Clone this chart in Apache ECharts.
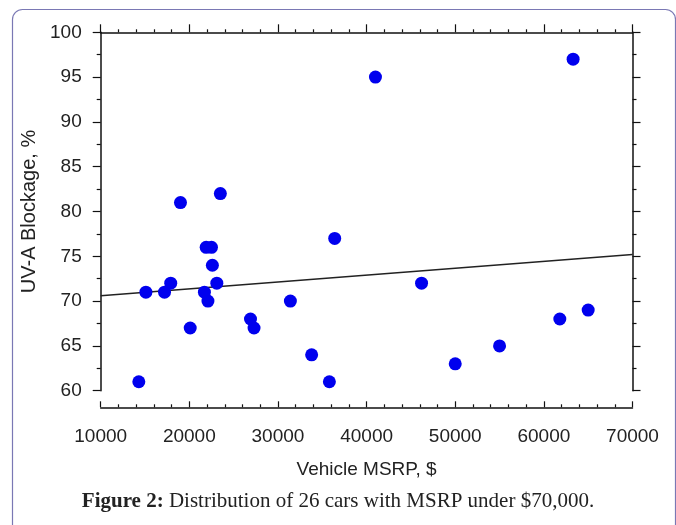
<!DOCTYPE html>
<html>
<head>
<meta charset="utf-8">
<script src="https://cdn.jsdelivr.net/npm/echarts@6/dist/echarts.min.js"></script>
<style>
html,body{margin:0;padding:0;background:#fff;}
#c{width:676px;height:525px;}
</style>
</head>
<body>
<div id="c"></div>
<script>
// Vehicle MSRP ($) and UV-A blockage (%) for the 26 cars
const msrp = [14300, 15100, 17200, 17900, 19000, 20100, 21900, 21700, 22100, 22500, 22600, 23100, 23500, 26900, 27300, 31400, 33800, 35800, 36400, 41000, 46200, 50000, 55000, 61800, 63300, 65000];
const uva  = [61, 71, 71, 72, 81, 67, 76, 71, 70, 76, 74, 72, 82, 68, 67, 70, 64, 61, 77, 95, 72, 63, 65, 68, 97, 69];
// Fitted trend line end points
const trendX = [10000, 70000];
const trendY = [70.6, 75.2];
const xTicks = [10000, 20000, 30000, 40000, 50000, 60000, 70000];
const yTicks = [60, 65, 70, 75, 80, 85, 90, 95, 100];

const chart = echarts.init(document.getElementById('c'), null, {renderer: 'canvas'});
const lineStyle = {color: '#111', width: 1.5};
const labelFont = {fontFamily: 'Liberation Sans, Arial, sans-serif', fontSize: 19, color: '#222'};

const xBase = {
  type: 'value', min: xTicks[0], max: xTicks[xTicks.length - 1], interval: 10000,
  splitLine: {show: false},
  axisLine: {show: true, onZero: false, lineStyle: lineStyle},
  minorTick: {show: true, splitNumber: 5, length: 3, lineStyle: {color: '#111', width: 1.2}},
  minorSplitLine: {show: false}
};
const yBase = {
  type: 'value', min: yTicks[0], max: yTicks[yTicks.length - 1], interval: 5,
  splitLine: {show: false},
  axisLine: {show: true, onZero: false, lineStyle: lineStyle},
  minorTick: {show: true, splitNumber: 2, length: 4, lineStyle: {color: '#111', width: 1.2}},
  minorSplitLine: {show: false}
};

chart.setOption({
  animation: false,
  backgroundColor: '#fff',
  grid: {left: 100.7, right: 43.5, top: 32.3, bottom: 134.3, containLabel: false},
  title: {
    text: '{b|Figure 2:} Distribution of 26 cars with MSRP under $70,000.',
    left: 'center', top: 486,
    textStyle: {
      fontFamily: 'Liberation Serif, Times New Roman, serif', fontSize: 21, fontWeight: 'normal', color: '#222',
      rich: {b: {fontFamily: 'Liberation Serif, Times New Roman, serif', fontSize: 21, fontWeight: 'bold', color: '#222'}}
    }
  },
  graphic: [{
    type: 'rect', left: 10, top: 7, silent: true, z: -1,
    shape: {width: 663, height: 530, r: 10},
    style: {fill: 'none', stroke: '#7a78b4', lineWidth: 1.2}
  }],
  xAxis: [
    Object.assign({}, xBase, {
      position: 'bottom', offset: 16.6,
      name: 'Vehicle MSRP, $', nameLocation: 'middle', nameGap: 53,
      nameTextStyle: {fontFamily: 'Liberation Sans, Arial, sans-serif', fontSize: 19, color: '#222'},
      axisTick: {show: true, inside: true, length: 6, lineStyle: {color: '#111', width: 1.2}},
      axisLabel: Object.assign({margin: 20, formatter: v => String(v)}, labelFont)
    }),
    Object.assign({}, xBase, {
      position: 'top',
      axisTick: {show: true, inside: false, length: 8, lineStyle: {color: '#111', width: 1.2}},
      axisLabel: {show: false}
    })
  ],
  yAxis: [
    Object.assign({}, yBase, {
      position: 'left',
      name: 'UV-A Blockage, %', nameLocation: 'middle', nameGap: 57, nameRotate: 90,
      nameTextStyle: {fontFamily: 'Liberation Sans, Arial, sans-serif', fontSize: 20, color: '#222'},
      axisTick: {show: true, inside: false, length: 8, lineStyle: {color: '#111', width: 1.2}},
      axisLabel: Object.assign({margin: 19, formatter: v => String(v)}, labelFont)
    }),
    Object.assign({}, yBase, {
      position: 'right',
      axisTick: {show: true, inside: false, length: 8, lineStyle: {color: '#111', width: 1.2}},
      axisLabel: {show: false}
    })
  ],
  series: [
    {
      type: 'line', xAxisIndex: 0, yAxisIndex: 0,
      data: trendX.map((x, i) => [x, trendY[i]]),
      symbol: 'none', lineStyle: {color: '#222', width: 1.5}, z: 2, silent: true
    },
    {
      type: 'scatter', xAxisIndex: 0, yAxisIndex: 0,
      data: msrp.map((x, i) => [x, uva[i]]),
      symbol: 'circle', symbolSize: 13,
      itemStyle: {color: '#0000ee', opacity: 1}, z: 3
    }
  ]
});
</script>
</body>
</html>
